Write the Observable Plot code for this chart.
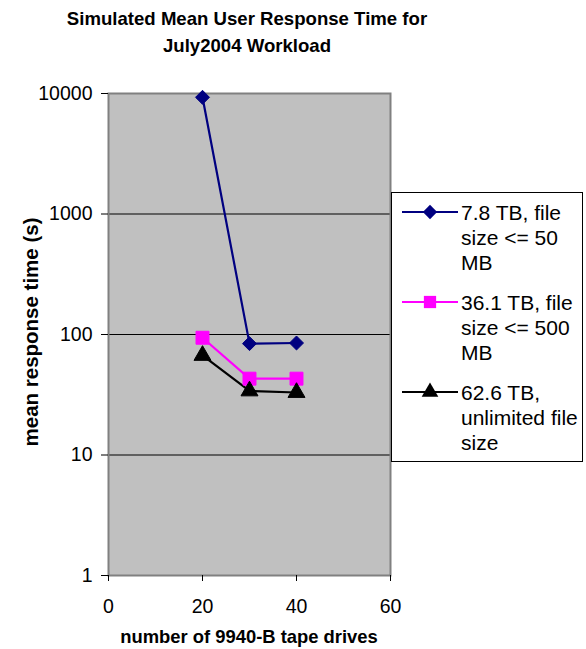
<!DOCTYPE html>
<html>
<head>
<meta charset="utf-8">
<script src="https://cdn.jsdelivr.net/npm/d3@7"></script>
<script src="https://cdn.jsdelivr.net/npm/@observablehq/plot@0.6"></script>
<style>
  html, body { margin: 0; padding: 0; background: #fff; }
  body { width: 586px; height: 649px; position: relative; overflow: hidden; font-family: "Liberation Sans", Arial, sans-serif; }
  #chart { position: absolute; left: 0; top: 0; }
  .title { position: absolute; left: 0; width: 494px; top: 5px; text-align: center; font-weight: bold; font-size: 18.6px; line-height: 27px; color: #000; white-space: nowrap; }
  .xlabel { position: absolute; left: 49px; width: 400px; top: 626px; line-height: 21px; text-align: center; font-weight: bold; font-size: 18.4px; color: #000; white-space: nowrap; }
  .ylabel { position: absolute; left: 31px; top: 332px; transform: translate(-50%, -50%) rotate(-90deg); white-space: nowrap; font-weight: bold; font-size: 20.5px; color: #000; }
  #legend { position: absolute; left: 391px; top: 192px; width: 192px; height: 270px; border: 1px solid #000; background: #fff; box-sizing: border-box; }
  .entry { position: absolute; left: 0; }
  .entry svg { position: absolute; left: 10px; top: 0px; }
  .entry .txt { position: absolute; left: 69px; top: 0; font-size: 21px; line-height: 25px; white-space: nowrap; color: #000; }
</style>
</head>
<body>
<div class="title">Simulated Mean User Response Time for<br>July2004 Workload</div>
<div id="chart"></div>
<div class="ylabel">mean response time (s)</div>
<div class="xlabel">number of 9940-B tape drives</div>
<div id="legend"></div>
<script>
// Data
const drives = [20, 30, 40];
const series = ["7.8 TB, file size <= 50 MB", "36.1 TB, file size <= 500 MB", "62.6 TB, unlimited file size"];
const small50 = [9300, 84, 85];
const medium500 = [94, 43, 43];
const unlimited = [67, 34, 33];
const legendLines = [["7.8 TB, file", "size <= 50", "MB"], ["36.1 TB, file", "size <= 500", "MB"], ["62.6 TB,", "unlimited file", "size"]];
const colors = ["#000080", "#FF00FF", "#000000"];
const symbols = ["diamond2", "square", "triangle"];
const xTicks = [0, 20, 40, 60];
const yTicks = [1, 10, 100, 1000, 10000];

const valueSets = [small50, medium500, unlimited];
const data = [];
series.forEach((s, i) => drives.forEach((d, j) => data.push({series: s, drives: d, value: valueSets[i][j]})));
const markR = [6.3, 7.3, 6.3];

const chart = Plot.plot({
  width: 586,
  height: 649,
  marginTop: 93,
  marginBottom: 74,
  marginLeft: 108,
  marginRight: 196,
  style: {fontFamily: "Liberation Sans, Arial, sans-serif", fontSize: "19.5px", color: "#000", background: "transparent"},
  x: {domain: [0, 60], ticks: xTicks},
  y: {type: "log", domain: [1, 10000], ticks: yTicks},
  color: {domain: series, range: colors},
  symbol: {domain: series, range: symbols},
  marks: [
    Plot.frame({fill: "#C0C0C0", stroke: "none"}),
    Plot.ruleY(yTicks.slice(1, 4), {stroke: "#000", strokeWidth: 1}),
    Plot.frame({stroke: "#808080", strokeWidth: 2}),
    Plot.axisY({ticks: yTicks, tickFormat: d => String(d), tickSize: 7, tickPadding: 9, label: null, fontSize: 19.5}),
    Plot.axisX({ticks: xTicks, tickFormat: d => String(d), tickSize: 6, tickPadding: 18, label: null, fontSize: 19.5}),
    Plot.line(data, {x: "drives", y: "value", z: "series", stroke: "series", strokeWidth: 2.2}),
    ...series.map((s, i) => Plot.dot(data.filter(d => d.series === s), {x: "drives", y: "value", symbol: "series", fill: "series", stroke: "series", strokeWidth: 1, r: markR[i]}))
  ]
});
document.getElementById("chart").appendChild(chart);

// Legend
const legend = document.getElementById("legend");
const tops = [7, 97, 187];
const legendSize = [130, 150, 120];
series.forEach((s, i) => {
  const e = document.createElement("div");
  e.className = "entry";
  e.style.top = tops[i] + "px";
  const sym = d3.symbol(d3[{diamond2: "symbolDiamond2", square: "symbolSquare", triangle: "symbolTriangle"}[symbols[i]]], legendSize[i])();
  e.innerHTML = `<svg width="56" height="24"><line x1="0" x2="56" y1="12" y2="12" stroke="${colors[i]}" stroke-width="2"/><path d="${sym}" transform="translate(28,12)" fill="${colors[i]}"/></svg><div class="txt">${legendLines[i].map(t => t.replace(/</g, "&lt;")).join("<br>")}</div>`;
  legend.appendChild(e);
});
</script>
</body>
</html>
